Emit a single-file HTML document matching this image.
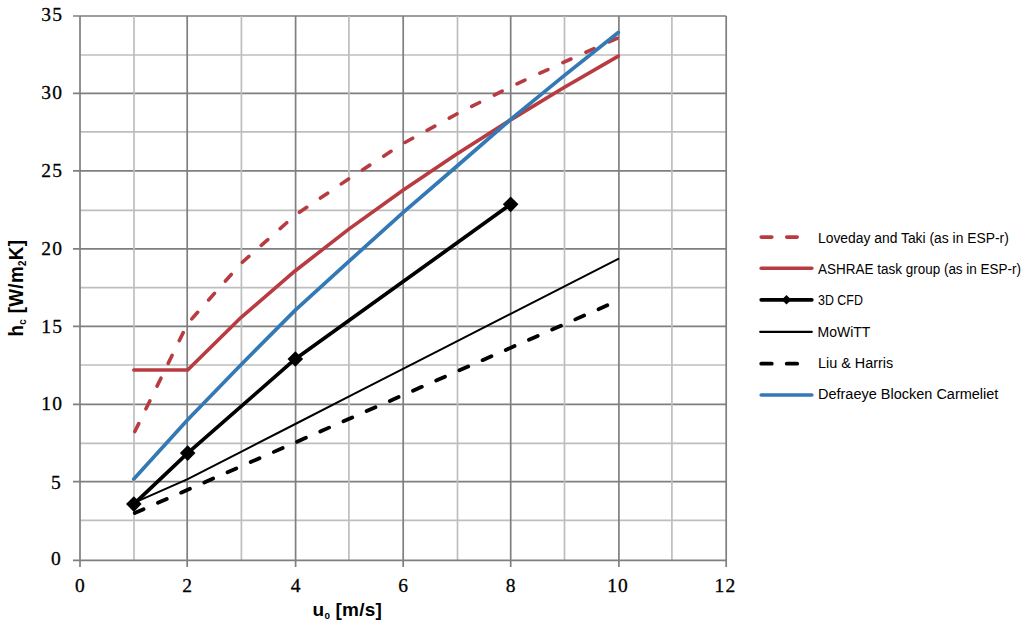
<!DOCTYPE html>
<html><head><meta charset="utf-8"><style>
html,body{margin:0;padding:0;background:#fff;}
body{width:1024px;height:625px;position:relative;overflow:hidden;}
svg{position:absolute;left:0;top:0;}
.yl{position:absolute;left:21.4px;width:42px;text-align:right;font-family:"Liberation Serif",serif;font-size:19.5px;line-height:24px;color:#000;-webkit-text-stroke:0.3px #000;letter-spacing:1.2px;}
.xl{position:absolute;top:574px;width:40px;text-align:center;font-family:"Liberation Serif",serif;font-size:19.5px;line-height:24px;color:#000;-webkit-text-stroke:0.3px #000;letter-spacing:1.2px;}
.lg{position:absolute;left:817.5px;font-family:"Liberation Sans",sans-serif;font-size:14px;line-height:20px;color:#000;white-space:nowrap;transform-origin:0 0;}
.xt{position:absolute;left:312.6px;top:598px;font-family:"Liberation Sans",sans-serif;font-weight:bold;font-size:19px;letter-spacing:0.2px;line-height:24px;white-space:nowrap;}
.yt{position:absolute;left:-40.8px;top:272.7px;width:120px;text-align:center;transform:rotate(-90deg) scaleX(0.92);font-family:"Liberation Sans",sans-serif;font-weight:bold;font-size:20.5px;letter-spacing:0.35px;line-height:24px;white-space:nowrap;}
sub{font-size:52%;vertical-align:-0.3em;}
</style></head><body>
<svg width="1024" height="625" viewBox="0 0 1024 625">
<line x1="80.0" y1="520.4" x2="726.2" y2="520.4" stroke="#bebebe" stroke-width="1.7"/>
<line x1="73" y1="481.7" x2="726.2" y2="481.7" stroke="#7f7f7f" stroke-width="1.7"/>
<line x1="80.0" y1="443.3" x2="726.2" y2="443.3" stroke="#bebebe" stroke-width="1.7"/>
<line x1="73" y1="404.4" x2="726.2" y2="404.4" stroke="#7f7f7f" stroke-width="1.7"/>
<line x1="80.0" y1="365.0" x2="726.2" y2="365.0" stroke="#bebebe" stroke-width="1.7"/>
<line x1="73" y1="326.3" x2="726.2" y2="326.3" stroke="#7f7f7f" stroke-width="1.7"/>
<line x1="80.0" y1="287.7" x2="726.2" y2="287.7" stroke="#bebebe" stroke-width="1.7"/>
<line x1="73" y1="248.8" x2="726.2" y2="248.8" stroke="#7f7f7f" stroke-width="1.7"/>
<line x1="80.0" y1="210.4" x2="726.2" y2="210.4" stroke="#bebebe" stroke-width="1.7"/>
<line x1="73" y1="170.8" x2="726.2" y2="170.8" stroke="#7f7f7f" stroke-width="1.7"/>
<line x1="80.0" y1="131.8" x2="726.2" y2="131.8" stroke="#bebebe" stroke-width="1.7"/>
<line x1="73" y1="93.4" x2="726.2" y2="93.4" stroke="#7f7f7f" stroke-width="1.7"/>
<line x1="80.0" y1="55.0" x2="726.2" y2="55.0" stroke="#bebebe" stroke-width="1.7"/>
<line x1="73" y1="16.0" x2="726.2" y2="16.0" stroke="#7f7f7f" stroke-width="1.7"/>
<line x1="134.0" y1="16.0" x2="134.0" y2="560.3" stroke="#bebebe" stroke-width="1.7"/>
<line x1="187.2" y1="16.0" x2="187.2" y2="567" stroke="#7f7f7f" stroke-width="1.7"/>
<line x1="241.4" y1="16.0" x2="241.4" y2="560.3" stroke="#bebebe" stroke-width="1.7"/>
<line x1="295.6" y1="16.0" x2="295.6" y2="567" stroke="#7f7f7f" stroke-width="1.7"/>
<line x1="348.9" y1="16.0" x2="348.9" y2="560.3" stroke="#bebebe" stroke-width="1.7"/>
<line x1="403.2" y1="16.0" x2="403.2" y2="567" stroke="#7f7f7f" stroke-width="1.7"/>
<line x1="457.5" y1="16.0" x2="457.5" y2="560.3" stroke="#bebebe" stroke-width="1.7"/>
<line x1="510.7" y1="16.0" x2="510.7" y2="567" stroke="#7f7f7f" stroke-width="1.7"/>
<line x1="564.5" y1="16.0" x2="564.5" y2="560.3" stroke="#bebebe" stroke-width="1.7"/>
<line x1="618.9" y1="16.0" x2="618.9" y2="567" stroke="#7f7f7f" stroke-width="1.7"/>
<line x1="671.9" y1="16.0" x2="671.9" y2="560.3" stroke="#bebebe" stroke-width="1.7"/>
<line x1="726.2" y1="16.0" x2="726.2" y2="567" stroke="#7f7f7f" stroke-width="1.7"/>
<line x1="80.0" y1="16.0" x2="80.0" y2="567" stroke="#7f7f7f" stroke-width="1.7"/>
<line x1="73" y1="560.3" x2="726.2" y2="560.3" stroke="#7f7f7f" stroke-width="1.7"/>
<polyline points="133.83,433.63 187.66,323.51 241.49,263.01 295.32,215.10 349.15,178.55 402.98,143.55 456.81,114.00 510.64,86.78 564.47,61.89 618.30,37.79" fill="none" stroke="#b83b41" stroke-width="3.6" stroke-dasharray="8.8 16.5" stroke-dashoffset="-2.3" stroke-linecap="round" stroke-linejoin="round"/>
<polyline points="133.83,369.96 187.66,369.96 241.49,317.01 295.32,270.74 349.15,228.88 402.98,190.21 456.81,154.03 510.64,119.84 564.47,87.30 618.30,56.16" fill="none" stroke="#b83b41" stroke-width="3.6" stroke-linecap="round" stroke-linejoin="round"/>
<polyline points="133.83,504.09 187.66,453.08 295.32,358.98 510.64,204.37" fill="none" stroke="#000000" stroke-width="3.7" stroke-linecap="round" stroke-linejoin="round"/>
<polygon points="133.83,496.29 141.63,504.09 133.83,511.89 126.03,504.09" fill="#000000"/>
<polygon points="187.66,445.28 195.46,453.08 187.66,460.88 179.86,453.08" fill="#000000"/>
<polygon points="295.32,351.18 303.12,358.98 295.32,366.78 287.52,358.98" fill="#000000"/>
<polygon points="510.64,196.57 518.44,204.37 510.64,212.17 502.84,204.37" fill="#000000"/>
<polyline points="133.83,502.85 187.66,479.05 241.49,451.52 295.32,423.99 349.15,396.46 402.98,368.93 456.81,341.40 510.64,313.87 564.47,286.34 618.30,258.81" fill="none" stroke="#000000" stroke-width="2" stroke-linecap="round" stroke-linejoin="round"/>
<polyline points="133.83,513.43 618.30,300.49" fill="none" stroke="#000000" stroke-width="3.8" stroke-dasharray="9.6 15.73" stroke-dashoffset="-1" stroke-linecap="round" stroke-linejoin="round"/>
<polyline points="133.83,479.05 187.66,419.79 241.49,364.26 295.32,310.14 349.15,261.14 402.98,212.61 456.81,166.26 510.64,119.44 564.47,75.43 618.30,32.50" fill="none" stroke="#3379b5" stroke-width="3.7" stroke-linecap="round" stroke-linejoin="round"/>
<line x1="761.2" y1="237.1" x2="771.8000000000001" y2="237.1" stroke="#b83b41" stroke-width="3.6" stroke-linecap="round"/>
<line x1="786.7" y1="237.1" x2="797.2" y2="237.1" stroke="#b83b41" stroke-width="3.6" stroke-linecap="round"/>
<line x1="761.2" y1="268.3" x2="811.8" y2="268.3" stroke="#b83b41" stroke-width="3.6" stroke-linecap="round"/>
<line x1="761.2" y1="299.8" x2="811.8" y2="299.8" stroke="#000000" stroke-width="3.7" stroke-linecap="round"/>
<polygon points="786.5,295.0 791.3,299.8 786.5,304.6 781.7,299.8" fill="#000000"/>
<line x1="760.2" y1="331.8" x2="811.8" y2="331.8" stroke="#000000" stroke-width="2.2" stroke-linecap="round"/>
<line x1="761.2" y1="363.7" x2="771.8000000000001" y2="363.7" stroke="#000000" stroke-width="3.7" stroke-linecap="round"/>
<line x1="786.7" y1="363.7" x2="797.2" y2="363.7" stroke="#000000" stroke-width="3.7" stroke-linecap="round"/>
<line x1="761.2" y1="395.0" x2="811.8" y2="395.0" stroke="#3379b5" stroke-width="3.6" stroke-linecap="round"/>
</svg>
<div class="yl" style="top:547.40px;left:19.90px">0</div>
<div class="yl" style="top:470.85px;left:19.90px">5</div>
<div class="yl" style="top:391.90px;left:21.10px">10</div>
<div class="yl" style="top:314.60px;left:21.10px">15</div>
<div class="yl" style="top:236.60px;left:21.10px">20</div>
<div class="yl" style="top:158.70px;left:21.10px">25</div>
<div class="yl" style="top:80.85px;left:21.10px">30</div>
<div class="yl" style="top:3.10px;left:21.10px">35</div>
<div class="xl" style="left:60.60px">0</div>
<div class="xl" style="left:167.80px">2</div>
<div class="xl" style="left:276.20px">4</div>
<div class="xl" style="left:383.80px">6</div>
<div class="xl" style="left:491.30px">8</div>
<div class="xl" style="left:598.10px">10</div>
<div class="xl" style="left:705.40px">12</div>
<div class="lg" style="top:227.65px;transform:scaleX(0.99)">Loveday and Taki (as in ESP-r)</div>
<div class="lg" style="top:258.85px;transform:scaleX(0.963)">ASHRAE task group (as in ESP-r)</div>
<div class="lg" style="top:290.15px;transform:scaleX(0.888)">3D CFD</div>
<div class="lg" style="top:321.55px;transform:scaleX(1.0)">MoWiTT</div>
<div class="lg" style="top:353.05px;transform:scaleX(1.028)">Liu &amp; Harris</div>
<div class="lg" style="top:384.45px;transform:scaleX(1.035)">Defraeye Blocken Carmeliet</div>
<div class="xt">u<sub>0</sub> [m/s]</div>
<div class="yt">h<sub>c</sub> [W/m<sub>2</sub>K]</div>
</body></html>
